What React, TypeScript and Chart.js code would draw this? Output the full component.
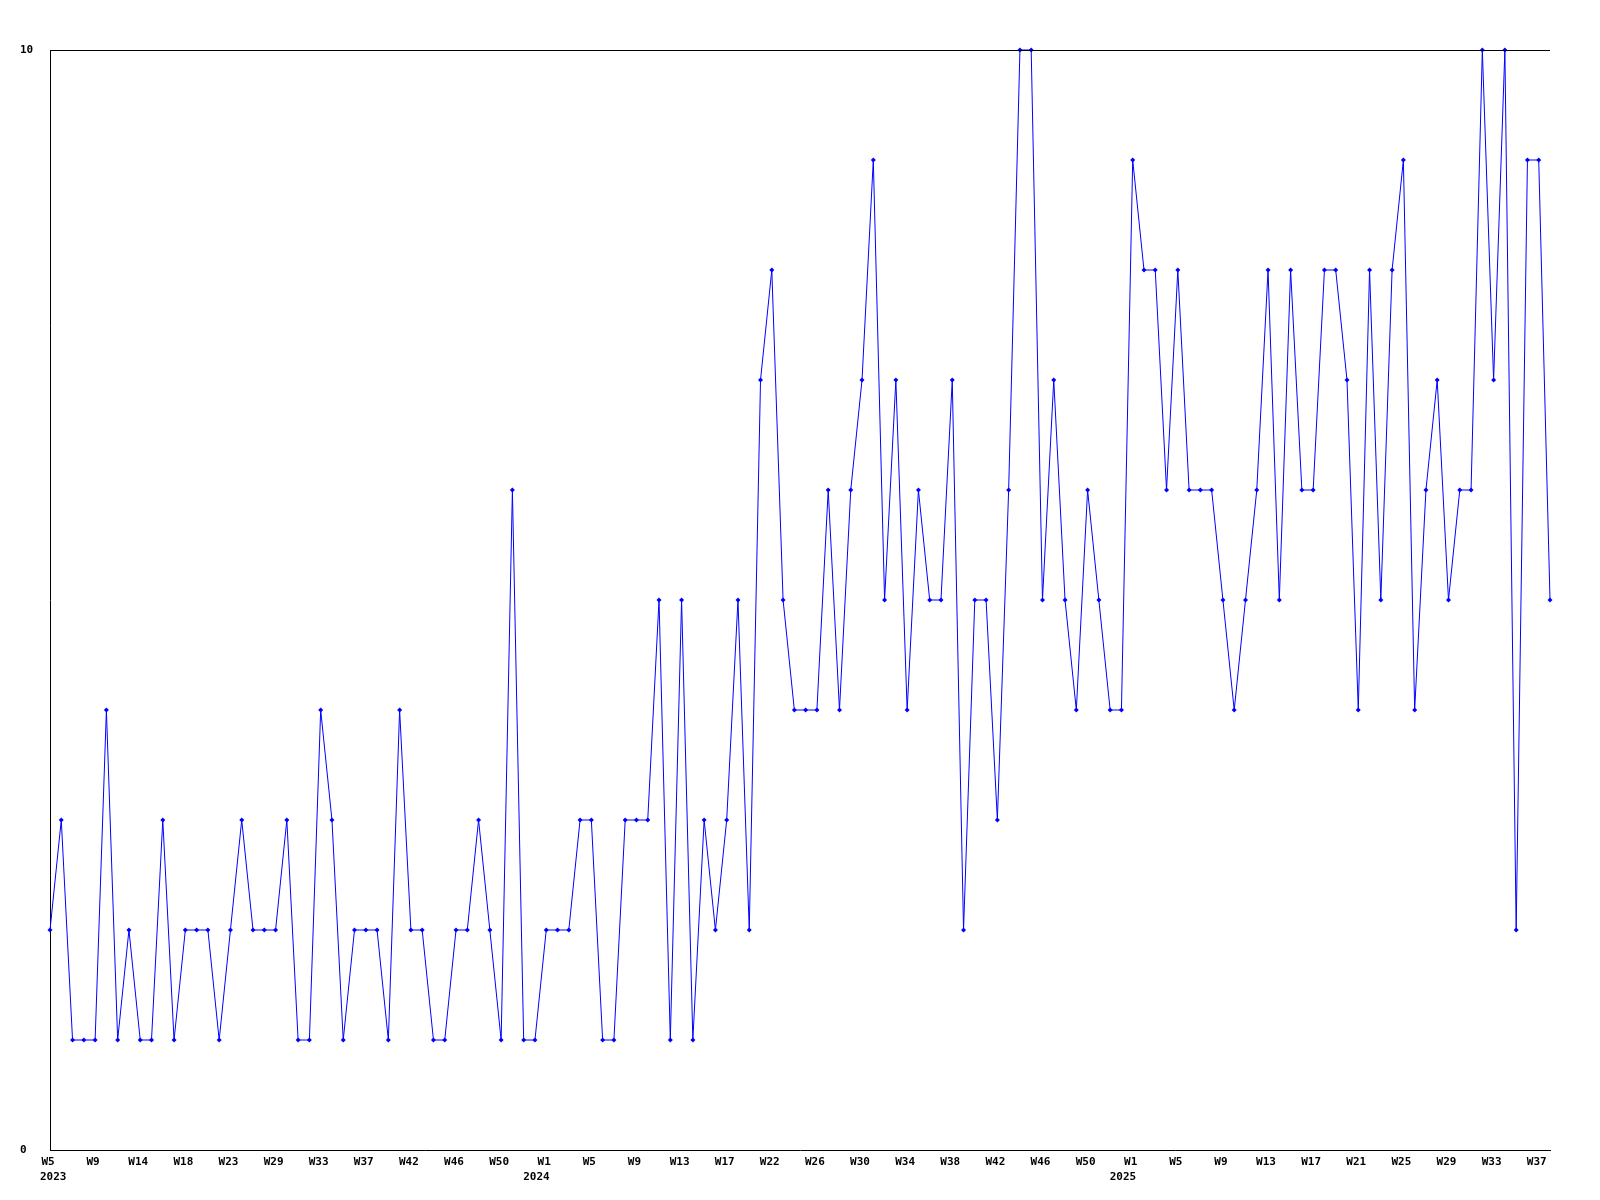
import React, { useEffect, useRef } from "react";
import { Chart, registerables } from "chart.js";

Chart.register(...registerables);

// One value per weekly point (134 points)
const values: number[] = [
  2, 3, 1, 1, 1, 4, 1, 2, 1, 1, 3, 1, 2, 2, 2, 1, 2, 3, 2, 2,
  2, 3, 1, 1, 4, 3, 1, 2, 2, 2, 1, 4, 2, 2, 1, 1, 2, 2, 3, 2,
  1, 6, 1, 1, 2, 2, 2, 3, 3, 1, 1, 3, 3, 3, 5, 1, 5, 1, 3, 2,
  3, 5, 2, 7, 8, 5, 4, 4, 4, 6, 4, 6, 7, 9, 5, 7, 4, 6, 5, 5,
  7, 2, 5, 5, 3, 6, 10, 10, 5, 7, 5, 4, 6, 5, 4, 4, 9, 8, 8, 6,
  8, 6, 6, 6, 5, 4, 5, 6, 8, 5, 8, 6, 6, 8, 8, 7, 4, 8, 5, 8,
  9, 4, 6, 7, 5, 6, 6, 10, 7, 10, 2, 9, 9, 5,
];

// Week tick labels, one for every 4th point
const weekTicks: string[] = [
  "W5", "W9", "W14", "W18", "W23", "W29", "W33", "W37", "W42", "W46", "W50",
  "W1", "W5", "W9", "W13", "W17", "W22", "W26", "W30", "W34", "W38", "W42", "W46", "W50",
  "W1", "W5", "W9", "W13", "W17", "W21", "W25", "W29", "W33", "W37",
];
const weekTickStep = 4;

// Year labels and the point index they sit under
const yearLabels: string[] = ["2023", "2024", "2025"];
const yearIndex: number[] = [0, 44, 96];

const yTicks: number[] = [0, 10];

const categories: number[] = values.map((_, i) => i);

const FONT = { family: "'DejaVu Sans Mono', monospace", size: 11, weight: "bold" as const };

export default function App() {
  const ref = useRef<HTMLCanvasElement | null>(null);

  useEffect(() => {
    if (!ref.current) return;
    const frame = {
      id: "frame",
      afterDatasetsDraw(chart: any) {
        const { ctx, chartArea } = chart;
        ctx.save();
        ctx.strokeStyle = "#000";
        ctx.lineWidth = 1;
        ctx.beginPath();
        ctx.moveTo(chartArea.left, chartArea.top + 0.5);
        ctx.lineTo(chartArea.right, chartArea.top + 0.5);
        ctx.stroke();
        ctx.restore();
      },
      afterDraw(chart: any) {
        const { ctx } = chart;
        const xs = chart.scales.x;
        ctx.save();
        ctx.font = `bold 11px 'DejaVu Sans Mono', monospace`;
        ctx.fillStyle = "#000";
        ctx.textBaseline = "top";
        ctx.textAlign = "left";
        yearLabels.forEach((lab, k) => {
          const px = xs.getPixelForValue(yearIndex[k]);
          const left = Math.max(px - 23, 40);
          ctx.fillText(lab, left, 1172);
        });
        ctx.restore();
      },
    };

    const chart = new Chart(ref.current, {
      type: "line",
      data: {
        labels: categories,
        datasets: [
          {
            data: values,
            borderColor: "#0000ff",
            backgroundColor: "#0000ff",
            borderWidth: 1,
            pointStyle: "rectRot",
            pointRadius: 2.5,
            pointBorderWidth: 0,
            pointHoverRadius: 2.5,
            tension: 0,
            clip: false as any,
          },
        ],
      },
      options: {
        animation: false,
        responsive: false,
        events: [],
        layout: { padding: { left: 20, top: 50, right: 50, bottom: 0 } },
        plugins: { legend: { display: false }, tooltip: { enabled: false } },
        scales: {
          x: {
            type: "category",
            offset: false,
            grid: { display: false, drawTicks: false },
            border: { display: true, color: "#000", width: 1 },
            afterFit: (s: any) => { s.height = 50; },
            ticks: {
              autoSkip: false,
              maxRotation: 0,
              minRotation: 0,
              padding: 6,
              labelOffset: -2,
              color: "#000",
              font: FONT,
              callback: (_v: any, i: number) =>
                i % weekTickStep === 0 && weekTicks[i / weekTickStep] !== undefined
                  ? weekTicks[i / weekTickStep]
                  : "",
            },
          },
          y: {
            min: yTicks[0],
            max: yTicks[yTicks.length - 1],
            grid: { display: false, drawTicks: false },
            border: { display: true, color: "#000", width: 1 },
            afterFit: (s: any) => { s.width = 30; },
            afterBuildTicks: (s: any) => { s.ticks = yTicks.map((v) => ({ value: v })); },
            ticks: {
              crossAlign: "far",
              padding: 0,
              color: "#000",
              font: FONT,
            },
          },
        },
      },
      plugins: [frame],
    });
    return () => chart.destroy();
  }, []);

  return (
    <div style={{ position: "fixed", left: 0, top: 0, width: 1600, height: 1200, background: "#fff" }}>
      <canvas ref={ref} width={1600} height={1200} style={{ width: 1600, height: 1200 }} />
    </div>
  );
}
